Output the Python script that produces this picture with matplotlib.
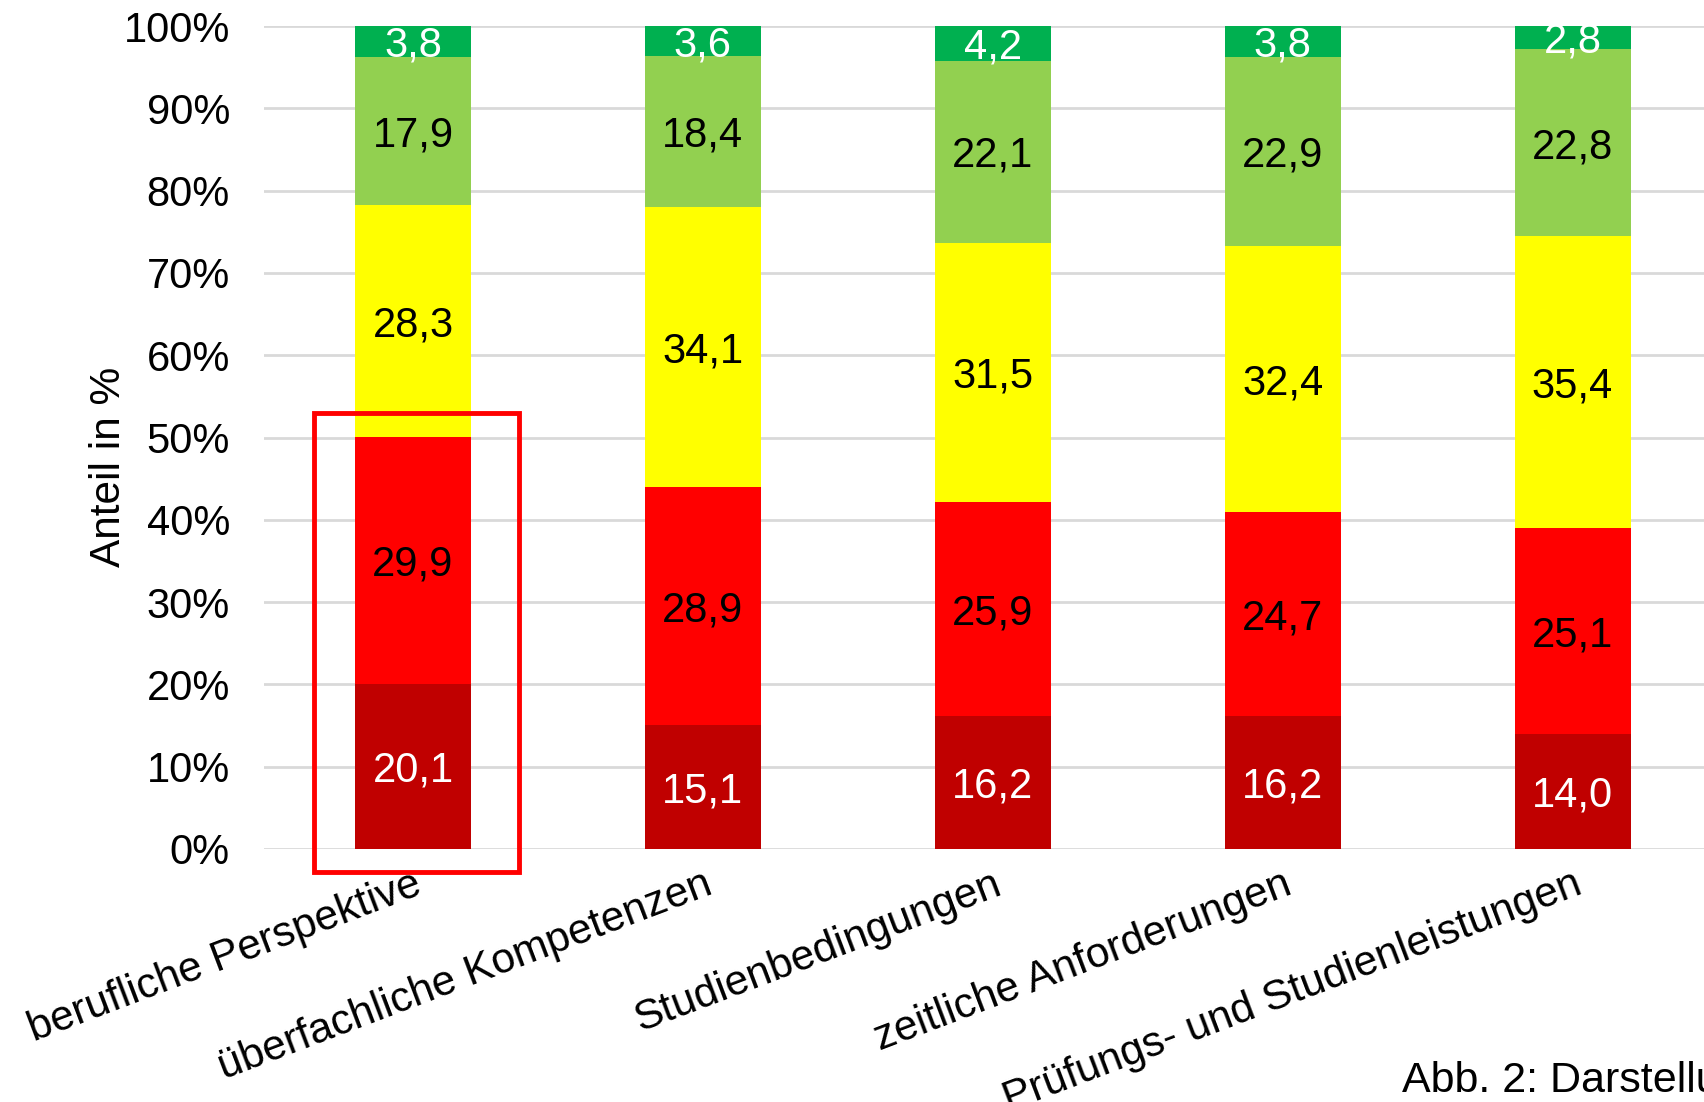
import numpy as np
import matplotlib
matplotlib.use('Agg')
import matplotlib.pyplot as plt
from matplotlib.patches import Rectangle
from matplotlib.transforms import offset_copy

plt.rcParams['font.family'] = ['Liberation Sans', 'DejaVu Sans']

categories = ['berufliche Perspektive', 'überfachliche Kompetenzen', 'Studienbedingungen',
              'zeitliche Anforderungen', 'Prüfungs- und Studienleistungen']
s_darkred = [20.1, 15.1, 16.2, 16.2, 14.0]
s_red = [29.9, 28.9, 25.9, 24.7, 25.1]
s_yellow = [28.3, 34.1, 31.5, 32.4, 35.4]
s_lightgreen = [17.9, 18.4, 22.1, 22.9, 22.8]
s_green = [3.8, 3.6, 4.2, 3.8, 2.8]

series = [s_darkred, s_red, s_yellow, s_lightgreen, s_green]
colors = ['#C00000', '#FF0000', '#FFFF00', '#92D050', '#00B050']
txtcolors = ['white', 'black', 'black', 'black', 'white']

data = np.array(series, dtype=float)
pct = data / data.sum(axis=0) * 100  # 100% stacked

fig = plt.figure(figsize=(17.04, 11.02), dpi=100)
ax = fig.add_axes([264/1704, 1-849/1102, (1717.5-264)/1704, (849-26)/1102])

lbl_tr = offset_copy(ax.transData, fig=fig, y=-3.1, units='points')

x = np.arange(len(categories))
bottom = np.zeros(len(categories))
for i in range(len(series)):
    ax.bar(x, pct[i], 0.4, bottom=bottom, color=colors[i], zorder=3)
    for j in range(len(categories)):
        ax.text(x[j], bottom[j] + pct[i][j]/2, ('%.1f' % series[i][j]).replace('.', ','),
                ha='center', va='center', fontsize=30, color=txtcolors[i], zorder=4,
                transform=lbl_tr)
    bottom += pct[i]

ax.set_xlim(-0.514, 4.5)
ax.set_ylim(0, 100)
ax.set_yticks(np.arange(0, 101, 10))
ax.set_yticklabels(['%d%%' % v for v in range(0, 101, 10)], fontsize=30)
ax.yaxis.grid(True, color='#D9D9D9', linewidth=2, zorder=0)
ax.set_axisbelow(True)
ax.tick_params(axis='y', length=0, pad=24.5)
for sp in ax.spines.values():
    sp.set_visible(False)
ax.set_xticks(x)
ax.set_xticklabels(categories, rotation=20.8, ha='right', va='top', rotation_mode='anchor',
                   fontsize=30.5)
ax.tick_params(axis='x', length=0, pad=11)
ax.set_ylabel('Anteil in %', fontsize=30.5)
ax.yaxis.set_label_coords(-(264-129)/1453.5, 0.464)

# red highlight box around first bar
ax.add_patch(Rectangle((-0.34, -2.8), 0.707, 55.8, fill=False, edgecolor='#FF0000',
                       linewidth=3.5, clip_on=False, zorder=5))

fig.text(1402/1704, 1-1092/1102, 'Abb. 2: Darstellung der Ergebnisse', fontsize=31,
         ha='left', va='baseline')

fig.savefig('out.png', dpi=100)
